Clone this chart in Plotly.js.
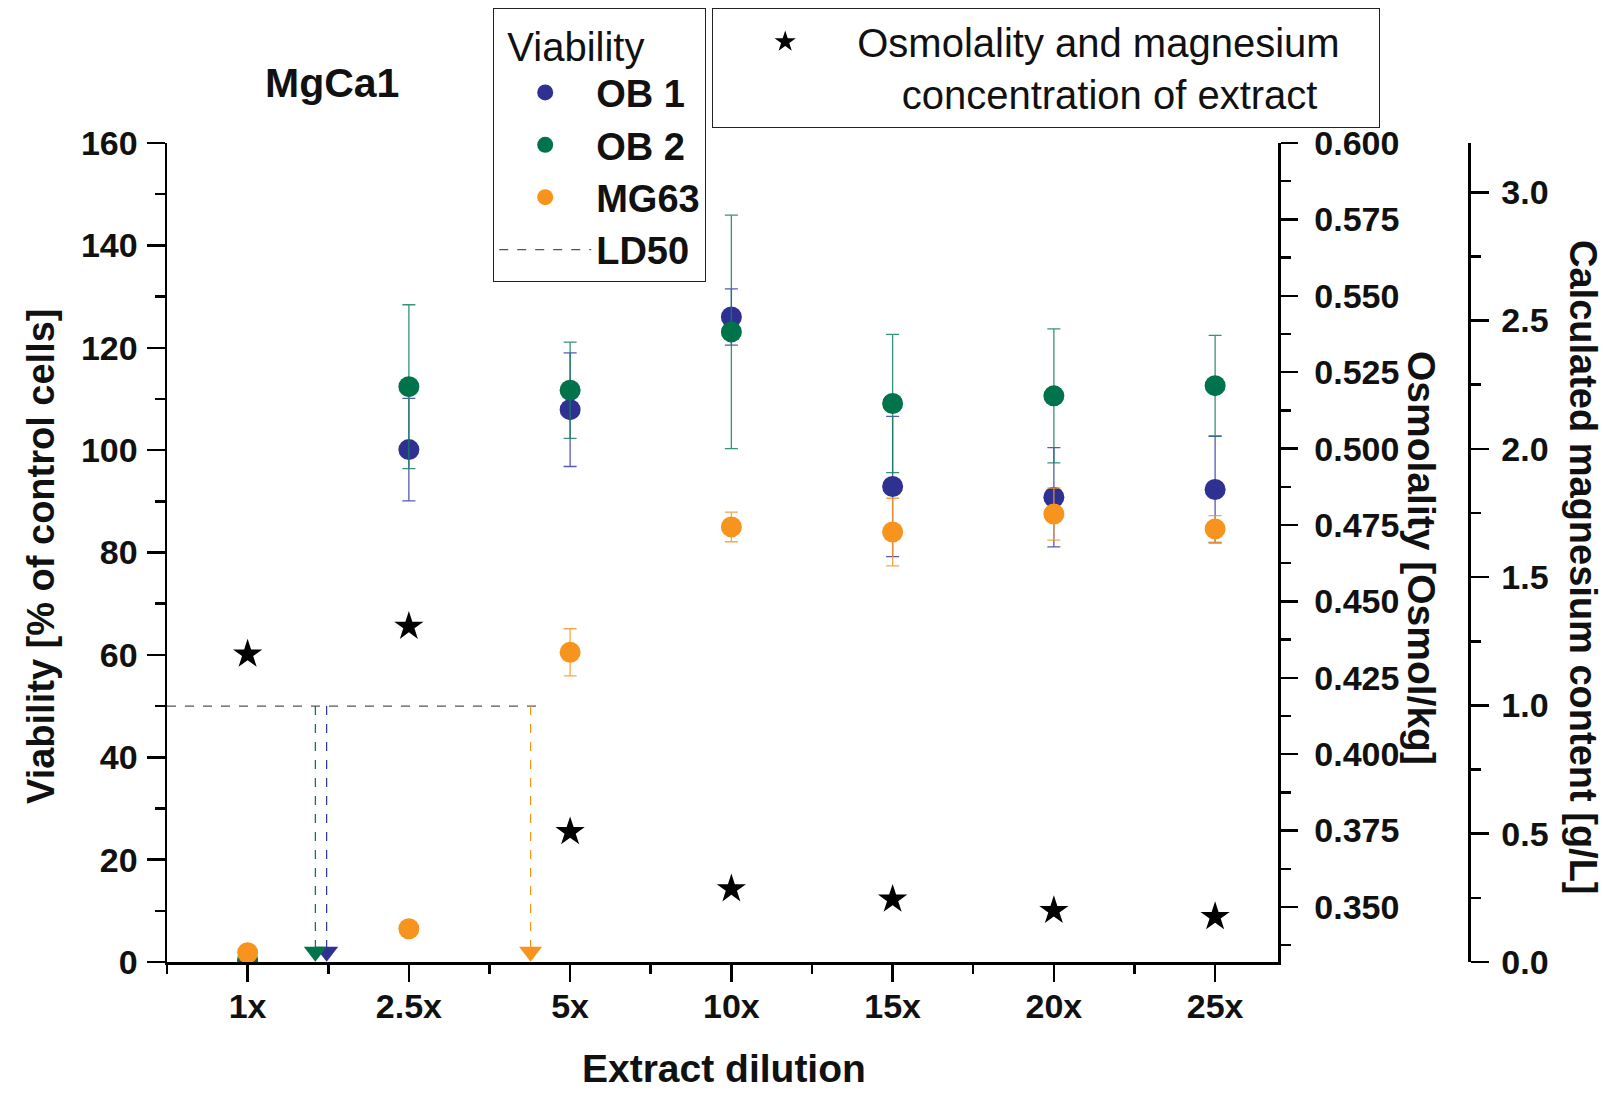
<!DOCTYPE html>
<html>
<head>
<meta charset="utf-8">
<script src="https://cdn.plot.ly/plotly-3.0.1.min.js"></script>
<style>html,body{margin:0;padding:0;background:#fff;}#chart{width:1607px;height:1093px;}</style>
</head>
<body>
<div id="chart"></div>
<script>
// ---- data ----
const categories = ['1x', '2.5x', '5x', '10x', '15x', '20x', '25x'];
const xPos = [1, 2, 3, 4, 5, 6, 7];
const ob1 = [0, 100.1, 107.9, 126.0, 92.9, 90.8, 92.3];
const ob1Err = [0, 10.0, 11.1, 5.5, 13.7, 9.7, 10.4];
const ob2 = [0.4, 112.4, 111.7, 123.1, 109.1, 110.6, 112.6];
const ob2Err = [0, 16.0, 9.4, 22.8, 13.5, 13.1, 9.8];
const mg63 = [1.8, 6.5, 60.5, 85.0, 84.0, 87.5, 84.6];
const mg63Err = [0, 0, 4.6, 2.9, 6.6, 5.1, 2.6];
const osmolality = [0.4327, 0.4418, 0.3746, 0.3559, 0.3525, 0.3488, 0.3468];
const ld50Level = 50;
const ld50Names = ['OB 1', 'OB 2', 'MG63'];
const ld50X = [1.49, 1.42, 2.755];
const ld50LineX = [0.5, 2.83];
const ld50MarkerY = 2.0;

// ---- style ----
const FONT = 'Arial, "Liberation Sans", sans-serif';
const colBlue = '#2e3192', colGreen = '#00734a', colOrange = '#f7941e';
const errBlue = 'rgba(60,60,170,0.85)', errGreen = 'rgba(20,130,95,0.85)', errOrange = 'rgba(247,150,40,0.85)';
const colors = [colBlue, colGreen, colOrange];

// plot-area pixel frame (paper = left axis .. magnesium axis)
const PL = 167, PR = 1469, PT = 143, PB = 962;
const px = X => (X - PL) / (PR - PL);
const py = Y => (PB - Y) / (PB - PT);
const xDomEnd = (1278 - PL) / (PR - PL);

function pointTrace(name, y, err, color, ecol) {
  return {
    type: 'scatter', mode: 'markers', name: name, x: xPos, y: y,
    marker: {color: color, size: 21, line: {width: 0}},
    error_y: {type: 'data', array: err, visible: true, color: ecol, thickness: 1.3, width: 6.5},
    legend: 'legend'
  };
}

const traces = [];
traces.push(pointTrace('OB 1', ob1, ob1Err, colBlue, errBlue));
traces.push(pointTrace('OB 2', ob2, ob2Err, colGreen, errGreen));
traces.push(pointTrace('MG63', mg63, mg63Err, colOrange, errOrange));
traces.push({
  type: 'scatter', mode: 'lines', name: 'LD50', x: ld50LineX, y: [ld50Level, ld50Level],
  line: {color: '#555', width: 1.3, dash: 'dash'}, legend: 'legend', hoverinfo: 'skip'
});
ld50X.forEach((xv, i) => {
  traces.push({
    type: 'scatter', mode: 'lines', x: [xv, xv], y: [ld50Level, ld50MarkerY], showlegend: false,
    line: {color: colors[i], width: 1.2, dash: 'dash'}, hoverinfo: 'skip', name: ld50Names[i]
  });
});
ld50X.forEach((xv, i) => {
  traces.push({
    type: 'scatter', mode: 'markers', x: [xv], y: [ld50MarkerY], showlegend: false,
    marker: {symbol: 'triangle-down', size: 20, color: colors[i]}, name: ld50Names[i], cliponaxis: false
  });
});
traces.push({
  type: 'scatter', mode: 'markers', x: xPos, y: osmolality, yaxis: 'y2',
  name: 'Osmolality and magnesium\u00a0\u00a0\u00a0<br>\u00a0\u00a0\u00a0\u00a0concentration of extract',
  marker: {symbol: 'star', size: 22, color: '#000'}, legend: 'legend2'
});
traces.push({type: 'scatter', mode: 'markers', x: [], y: [], yaxis: 'y3', showlegend: false});

const tickFont = {family: FONT, size: 34, color: '#111', weight: 'bold'};
const axisCommon = {
  showline: true, linecolor: '#000', linewidth: 2.5, ticks: 'outside', tickcolor: '#000',
  tickwidth: 2.5, showgrid: false, zeroline: false, tickfont: tickFont, fixedrange: true, automargin: false
};

const layout = {
  width: 1607, height: 1093,
  margin: {l: PL, r: 1607 - PR, t: PT, b: 1093 - PB, pad: 0, autoexpand: false},
  paper_bgcolor: '#fff', plot_bgcolor: '#fff',
  font: {family: FONT, color: '#111'},
  showlegend: true,
  xaxis: Object.assign({}, axisCommon, {
    domain: [0, xDomEnd], range: [0.5, 7.39], tickmode: 'array', tickvals: xPos, ticktext: categories,
    ticklen: 17, ticklabelstandoff: -4,
    minor: {tickvals: [0.5, 1.5, 2.5, 3.5, 4.5, 5.5, 6.5], ticklen: 9, tickwidth: 2.5, tickcolor: '#000', ticks: 'outside'}
  }),
  yaxis: Object.assign({}, axisCommon, {
    range: [0, 160], dtick: 20, tick0: 0, ticklen: 18, ticklabelstandoff: 2,
    minor: {dtick: 10, ticklen: 10, tickwidth: 2.5, tickcolor: '#000', ticks: 'outside'}
  }),
  yaxis2: Object.assign({}, axisCommon, {
    overlaying: 'y', side: 'right', anchor: 'x', range: [0.332, 0.600], tick0: 0.35, dtick: 0.025,
    tickformat: '.3f', ticklen: 17, ticklabelstandoff: 10,
    minor: {dtick: 0.0125, ticklen: 10, tickwidth: 2.5, tickcolor: '#000', ticks: 'outside'}
  }),
  yaxis3: Object.assign({}, axisCommon, {
    overlaying: 'y', side: 'right', anchor: 'free', position: 1, range: [0, 3.192], tick0: 0, dtick: 0.5,
    tickformat: '.1f', ticklen: 18, ticklabelstandoff: 6,
    minor: {dtick: 0.25, ticklen: 10, tickwidth: 2.5, tickcolor: '#000', ticks: 'outside'}
  }),
  legend: {
    xref: 'container', yref: 'container', x: 493 / 1607, y: 1 - 8 / 1093, xanchor: 'left', yanchor: 'top',
    bgcolor: '#fff', bordercolor: '#222', borderwidth: 1.2, itemwidth: 92, tracegroupgap: 0,
    font: {family: FONT, size: 38, color: '#111', weight: 'bold'},
    title: {text: '\u00a0Viability', font: {family: FONT, size: 40, color: '#111', weight: 'normal'}}
  },
  legend2: {
    xref: 'container', yref: 'container', x: 712 / 1607, y: 1 - 8 / 1093, xanchor: 'left', yanchor: 'top',
    bgcolor: '#fff', bordercolor: '#222', borderwidth: 1.2, itemwidth: 134, valign: 'top',
    font: {family: FONT, size: 40, color: '#111', weight: 'normal'}
  },
  annotations: [
    {text: 'MgCa1', xref: 'paper', yref: 'paper', x: px(332), y: py(83), showarrow: false,
     xanchor: 'center', yanchor: 'middle', font: {family: FONT, size: 41, color: '#111', weight: 'bold'}},
    {text: 'Viability [% of control cells]', xref: 'paper', yref: 'paper', x: px(41), y: py(556), textangle: -90,
     showarrow: false, xanchor: 'center', yanchor: 'middle', font: {family: FONT, size: 38, color: '#111', weight: 'bold'}},
    {text: 'Extract dilution', xref: 'paper', yref: 'paper', x: px(724), y: py(1092), showarrow: false,
     xanchor: 'center', yanchor: 'bottom', font: {family: FONT, size: 39, color: '#111', weight: 'bold'}},
    {text: 'Osmolality [Osmol/kg]', xref: 'paper', yref: 'paper', x: px(1422), y: py(558), textangle: 90,
     showarrow: false, xanchor: 'center', yanchor: 'middle', font: {family: FONT, size: 39, color: '#111', weight: 'bold'}},
    {text: 'Calculated magnesium content [g/L]', xref: 'paper', yref: 'paper', x: px(1583), y: py(567), textangle: 90,
     showarrow: false, xanchor: 'center', yanchor: 'middle', font: {family: FONT, size: 38, color: '#111', weight: 'bold'}}
  ]
};

Plotly.newPlot('chart', traces, layout, {displayModeBar: false, staticPlot: true});
</script>
</body>
</html>
